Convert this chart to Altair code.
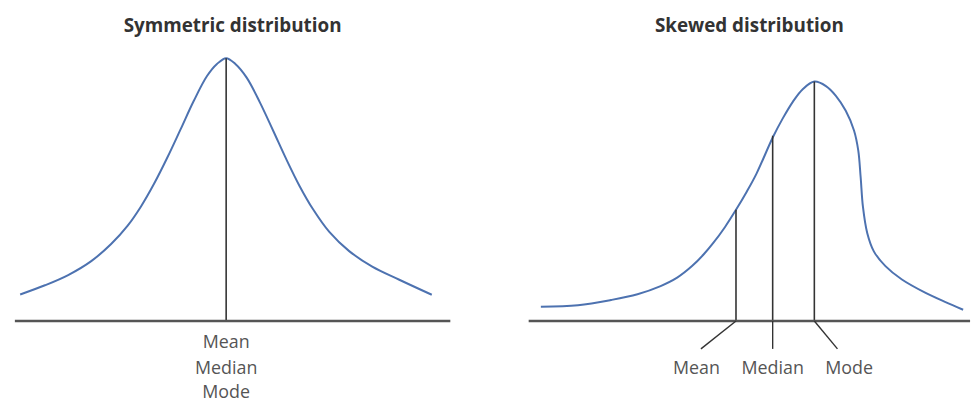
import altair as alt
import pandas as pd

# ---------------- Symmetric distribution (x in sd units, y = relative density)
sym_x = [-3.776, -3.322, -2.896, -2.473, -2.109, -1.805, -1.564, -1.322, -1.078,
         -0.836, -0.595, -0.351, -0.169, 0.0, 0.169, 0.376, 0.618, 0.860, 1.104,
         1.345, 1.587, 1.891, 2.255, 2.678, 3.164, 3.769]
sym_y = [0.101, 0.136, 0.175, 0.228, 0.293, 0.363, 0.435, 0.522, 0.622,
         0.729, 0.837, 0.932, 0.978, 1.0, 0.978, 0.926, 0.832, 0.725, 0.615,
         0.514, 0.427, 0.339, 0.266, 0.207, 0.158, 0.100]
sym_center_x = [0.0]
sym_center_y = [1.0]
sym_labels = ["Mean", "Median", "Mode"]
sym_label_x = [0.0, 0.0, 0.0]
sym_label_y = [-0.085, -0.182, -0.274]
sym_domain_x = [-3.873, 4.109]

# ---------------- Skewed distribution
skw_x = [0.276, 1.117, 1.865, 2.465, 2.989, 3.364, 3.701, 3.962, 4.187, 4.449,
         4.697, 4.937, 5.162, 5.535, 5.760, 5.984, 6.209, 6.472, 6.735, 6.960,
         7.184, 7.371, 7.467, 7.521, 7.573, 7.670, 7.820, 8.083, 8.456, 8.982,
         9.431, 9.843]
skw_y = [0.054, 0.060, 0.080, 0.102, 0.133, 0.165, 0.209, 0.253, 0.298, 0.358,
         0.423, 0.491, 0.561, 0.700, 0.772, 0.834, 0.882, 0.911, 0.894, 0.857,
         0.800, 0.725, 0.649, 0.548, 0.435, 0.335, 0.265, 0.209, 0.158, 0.108,
         0.073, 0.043]
skw_labels = ["Mean", "Median", "Mode"]
skw_stat_x = [4.697, 5.528, 6.472]
skw_stat_y = [0.423, 0.705, 0.911]
skw_label_x = [3.80, 5.528, 7.26]
skw_leader_y = [-0.106, -0.106, -0.106]
skw_label_y = [-0.182, -0.182, -0.182]
skw_leader_x = [3.903, 5.528, 6.996]
skw_domain_x = [0.0, 10.0]

y_domain = [-0.3132, 1.0642]

CURVE = "#4d72b0"
LINE = "#333333"
BASE = "#555555"
TEXT = "#555555"
FONT = "Open Sans"


def panel(title, cx, cy, sx, sy, lx_top, ly_top, lab, lab_x, lab_y, dom_x, width):
    xs = alt.Scale(domain=dom_x, nice=False, zero=False)
    ys = alt.Scale(domain=y_domain, nice=False, zero=False)
    curve = alt.Chart(pd.DataFrame({"x": cx, "y": cy})).mark_line(
        color=CURVE, strokeWidth=2, interpolate="catmull-rom"
    ).encode(x=alt.X("x:Q", scale=xs, axis=None), y=alt.Y("y:Q", scale=ys, axis=None))
    base = alt.Chart(pd.DataFrame({"y": [0.0]})).mark_rule(
        color=BASE, strokeWidth=2.5
    ).encode(y=alt.Y("y:Q", scale=ys, axis=None))
    stats = alt.Chart(pd.DataFrame({"x": sx, "y": sy, "y0": [0.0] * len(sx)})).mark_rule(
        color=LINE, strokeWidth=1.6
    ).encode(x=alt.X("x:Q", scale=xs, axis=None), y=alt.Y("y0:Q", scale=ys, axis=None), y2="y:Q")
    layers = [curve, stats, base]
    if lx_top is not None:
        lead = alt.Chart(pd.DataFrame({"x": sx, "x2": lx_top, "y0": [0.0] * len(sx),
                                       "y2": ly_top})).mark_rule(
            color=LINE, strokeWidth=1.4
        ).encode(x=alt.X("x:Q", scale=xs, axis=None), x2="x2:Q",
                 y=alt.Y("y0:Q", scale=ys, axis=None), y2="y2:Q")
        layers.append(lead)
    labels = alt.Chart(pd.DataFrame({"x": lab_x, "y": lab_y, "t": lab})).mark_text(
        font=FONT, fontSize=18, color=TEXT, baseline="middle", align="center"
    ).encode(x=alt.X("x:Q", scale=xs, axis=None), y=alt.Y("y:Q", scale=ys, axis=None), text="t:N")
    layers.append(labels)
    return alt.layer(*layers).properties(
        width=width, height=365,
        title=alt.TitleParams(title, anchor="middle", fontSize=19, font=FONT,
                              fontWeight="bold", color="#333333", offset=5),
    )


left = panel("Symmetric distribution", sym_x, sym_y, sym_center_x, sym_center_y,
             None, None, sym_labels, sym_label_x, sym_label_y, sym_domain_x, 439)
right = panel("Skewed distribution", skw_x, skw_y, skw_stat_x, skw_stat_y,
              skw_leader_x, skw_leader_y, skw_labels, skw_label_x, skw_label_y,
              skw_domain_x, 445)

chart = alt.hconcat(left, right, spacing=75).properties(
    padding={"left": 13, "top": 16, "right": 5, "bottom": 0},
    background="white",
).configure_view(stroke=None)

chart.save("out.html", embed_options={"renderer": "svg", "actions": False})
